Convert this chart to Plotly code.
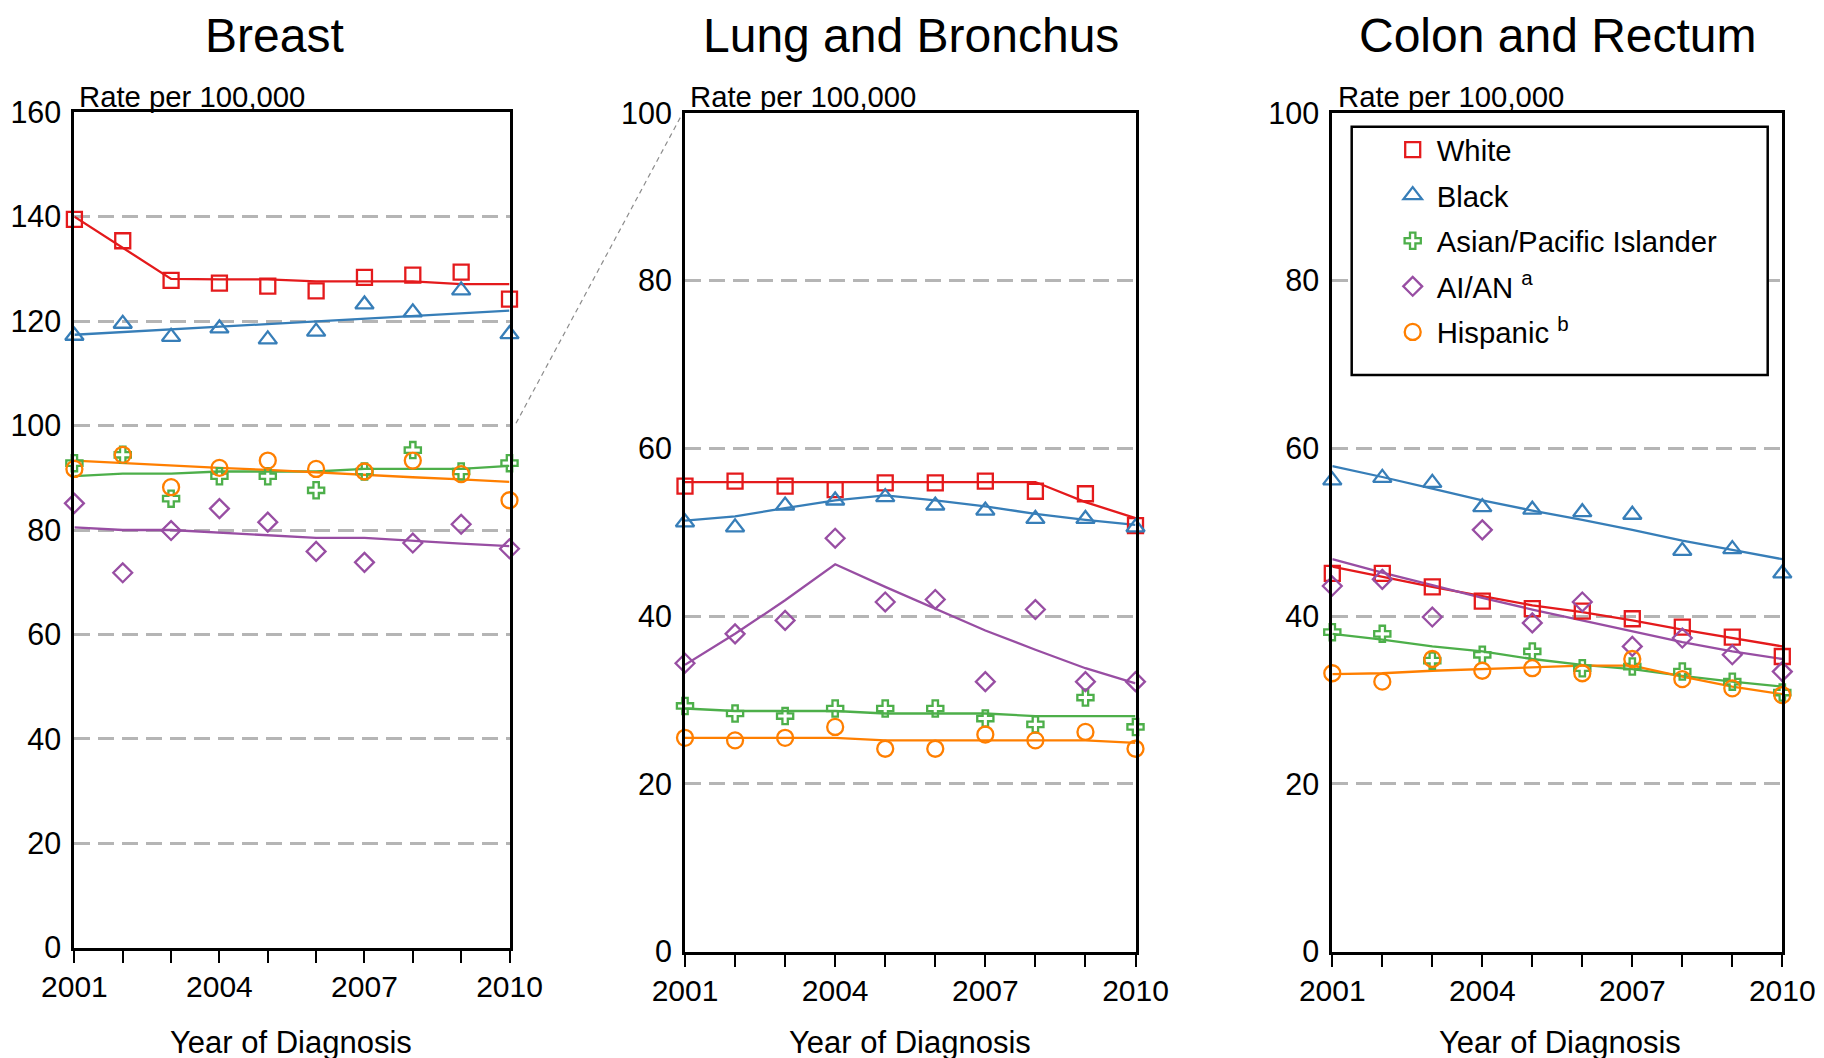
import plotly.graph_objects as go

W, H = 1824, 1058
OFF = 8  # page body margin of the html page

# ---------------- data ----------------
years = list(range(2001, 2011))
year_tick_vals = [2001, 2004, 2007, 2010]
year_tick_text = ["2001", "2004", "2007", "2010"]

panel_titles = ["Breast", "Lung and Bronchus", "Colon and Rectum"]
y_label = "Rate per 100,000"
x_label = "Year of Diagnosis"

group_names = ["White", "Black", "Asian/Pacific Islander",
               "AI/AN <sup>a</sup>", "Hispanic <sup>b</sup>"]

# Breast
breast_obs_white = [139.5, 135.4, 127.8, 127.3, 126.7, 125.8, 128.4, 128.8, 129.4, 124.2]
breast_fit_white = [140.0, 134.1, 128.1, 128.0, 128.0, 127.6, 127.6, 127.6, 127.1, 127.1]
breast_obs_black = [117.2, 119.5, 117.0, 118.6, 116.5, 118.0, 123.2, 121.7, 125.9, 117.5]
breast_fit_black = [117.4, 117.9, 118.4, 118.9, 119.4, 119.9, 120.5, 121.0, 121.5, 122.0]
breast_obs_api = [92.8, 94.4, 86.0, 90.3, 90.3, 87.6, 91.2, 95.3, 91.2, 92.8]
breast_fit_api = [90.3, 90.8, 90.8, 91.2, 91.2, 91.2, 91.7, 91.7, 91.7, 92.3]
breast_obs_aian = [85.1, 71.8, 79.9, 84.1, 81.5, 75.9, 73.8, 77.5, 81.1, 76.4]
breast_fit_aian = [80.5, 80.0, 80.0, 79.5, 79.0, 78.5, 78.5, 77.9, 77.4, 76.9]
breast_obs_hisp = [91.7, 94.4, 88.2, 91.9, 93.3, 91.7, 91.2, 93.3, 90.7, 85.7]
breast_fit_hisp = [93.3, 92.8, 92.4, 91.9, 91.5, 91.0, 90.6, 90.1, 89.7, 89.2]

# Lung and Bronchus
lung_obs_white = [55.5, 56.1, 55.5, 55.1, 55.9, 55.9, 56.1, 54.9, 54.6, 50.8]
lung_fit_white = [56.0, 56.0, 56.0, 56.0, 56.0, 56.0, 56.0, 56.0, 53.6, 51.7]
lung_obs_black = [51.2, 50.6, 53.2, 53.8, 54.2, 53.2, 52.6, 51.6, 51.6, 50.6]
lung_fit_black = [51.4, 51.9, 52.9, 53.8, 54.4, 53.8, 53.1, 52.2, 51.5, 50.9]
lung_obs_api = [29.3, 28.4, 28.1, 29.0, 29.0, 29.0, 27.8, 27.1, 30.3, 26.8]
lung_fit_api = [29.0, 28.7, 28.7, 28.7, 28.4, 28.4, 28.4, 28.1, 28.1, 28.1]
lung_obs_aian = [34.4, 37.9, 39.5, 49.3, 41.7, 42.0, 32.2, 40.8, 32.2, 32.2]
lung_fit_aian = [34.2, 37.9, 41.9, 46.2, 43.5, 40.9, 38.3, 36.0, 33.8, 32.0]
lung_obs_hisp = [25.5, 25.2, 25.5, 26.8, 24.2, 24.2, 25.9, 25.2, 26.2, 24.2]
lung_fit_hisp = [25.5, 25.5, 25.5, 25.5, 25.2, 25.2, 25.2, 25.2, 25.2, 24.9]

# Colon and Rectum
colon_obs_white = [45.1, 45.1, 43.5, 41.8, 40.9, 40.6, 39.7, 38.7, 37.5, 35.2]
colon_fit_white = [45.9, 44.7, 43.5, 42.4, 41.3, 40.5, 39.5, 38.4, 37.4, 36.4]
colon_obs_black = [56.2, 56.5, 55.9, 53.0, 52.7, 52.4, 52.1, 47.8, 48.0, 45.1]
colon_fit_black = [57.9, 56.6, 55.2, 53.8, 52.6, 51.5, 50.3, 49.0, 47.9, 46.8]
colon_obs_api = [38.1, 37.9, 34.7, 35.4, 35.8, 33.8, 34.0, 33.4, 32.2, 30.9]
colon_fit_api = [37.9, 37.2, 36.4, 35.8, 34.9, 34.2, 33.7, 32.9, 32.2, 31.6]
colon_obs_aian = [43.6, 44.4, 39.9, 50.3, 39.2, 41.7, 36.4, 37.4, 35.4, 33.4]
colon_fit_aian = [46.8, 45.2, 43.7, 42.2, 40.8, 39.5, 38.2, 36.9, 35.8, 34.9]
colon_obs_hisp = [33.2, 32.2, 34.9, 33.5, 33.8, 33.2, 34.9, 32.5, 31.4, 30.6]
colon_fit_hisp = [33.1, 33.2, 33.5, 33.7, 33.9, 34.1, 34.1, 32.8, 31.6, 30.7]

# ---------------- styles ----------------
FONT = "Arial, Liberation Sans, sans-serif"
colors = ["#e41a1c", "#377eb8", "#4daf4a", "#984ea3", "#ff7f00"]
symbols = ["square-open", "triangle-up-open", "cross-open", "diamond-open", "circle-open"]
msizes = [15, 16, 13.5, 14.5, 16]

panels = [
    dict(obs=[breast_obs_white, breast_obs_black, breast_obs_api, breast_obs_aian, breast_obs_hisp],
         fit=[breast_fit_white, breast_fit_black, breast_fit_api, breast_fit_aian, breast_fit_hisp],
         yrange=[0, 160], px=(74.4, 509.5), py=(112.3, 947.7),
         title_x=274.5, ylab_x=76.5, xlab_x=291),
    dict(obs=[lung_obs_white, lung_obs_black, lung_obs_api, lung_obs_aian, lung_obs_hisp],
         fit=[lung_fit_white, lung_fit_black, lung_fit_api, lung_fit_aian, lung_fit_hisp],
         yrange=[0, 100], px=(685.0, 1135.5), py=(113.0, 951.7),
         title_x=911, ylab_x=687.5, xlab_x=910),
    dict(obs=[colon_obs_white, colon_obs_black, colon_obs_api, colon_obs_aian, colon_obs_hisp],
         fit=[colon_fit_white, colon_fit_black, colon_fit_api, colon_fit_aian, colon_fit_hisp],
         yrange=[0, 100], px=(1332.3, 1782.3), py=(113.0, 951.7),
         title_x=1557.6, ylab_x=1335.5, xlab_x=1560),
]


def fx(p):
    return (p - OFF) / W


def fy(p):
    return 1 - (p - OFF) / H


fig = go.Figure()
layout = dict(
    width=W, height=H,
    margin=dict(l=0, r=0, t=0, b=0, autoexpand=False),
    paper_bgcolor="white", plot_bgcolor="white",
    font=dict(family=FONT, color="black", size=30),
    showlegend=True,
    annotations=[], shapes=[],
)

for i, p in enumerate(panels):
    n = "" if i == 0 else str(i + 1)
    xa, ya = "x" + n, "y" + n
    for g in range(5):
        fig.add_trace(go.Scatter(
            x=years, y=p["fit"][g], mode="lines", xaxis=xa, yaxis=ya,
            line=dict(color=colors[g], width=2.3), showlegend=False,
            legendgroup=group_names[g], cliponaxis=False, hoverinfo="skip"))
    for g in range(5):
        fig.add_trace(go.Scatter(
            x=years, y=p["obs"][g], mode="markers", xaxis=xa, yaxis=ya,
            name=group_names[g], legendgroup=group_names[g],
            showlegend=(i == 2),
            marker=dict(symbol=symbols[g], size=msizes[g], color=colors[g],
                        line=dict(color=colors[g], width=2.3)),
            cliponaxis=False))

    layout["xaxis" + n] = dict(
        domain=[fx(p["px"][0]), fx(p["px"][1])], anchor=ya,
        range=[years[0], years[-1]],
        tickmode="array", tickvals=year_tick_vals, ticktext=year_tick_text,
        ticks="outside", ticklen=12, tickwidth=2, tickcolor="black",
        minor=dict(ticks="outside", ticklen=12, tickwidth=2, tickcolor="black",
                   tick0=years[0], dtick=1, showgrid=False),
        showline=True, linewidth=3, linecolor="black", mirror=True,
        showgrid=False, zeroline=False, tickfont=dict(size=30),
        ticklabelstandoff=-2)
    layout["yaxis" + n] = dict(
        domain=[fy(p["py"][1]), fy(p["py"][0])], anchor=xa,
        range=p["yrange"], tick0=0, dtick=20, ticks="",
        showline=True, linewidth=3, linecolor="black", mirror=True,
        showgrid=True, gridcolor="#b5b5b5", gridwidth=2.5, griddash="16px,8px",
        zeroline=False, tickfont=dict(size=30.5), ticklabelstandoff=4)

    layout["annotations"].append(dict(
        text=panel_titles[i], x=fx(p["title_x"]), y=fy(35), xref="paper", yref="paper",
        xanchor="center", yanchor="middle", showarrow=False, font=dict(size=48)))
    layout["annotations"].append(dict(
        text=y_label, x=fx(p["ylab_x"]), y=fy(96), xref="paper", yref="paper",
        xanchor="left", yanchor="middle", showarrow=False, font=dict(size=29.3)))
    layout["annotations"].append(dict(
        text=x_label, x=fx(p["xlab_x"]), y=fy(1042), xref="paper", yref="paper",
        xanchor="center", yanchor="middle", showarrow=False, font=dict(size=31)))

# connector (scale break indicator)
layout["shapes"].append(dict(
    type="line", xref="paper", yref="paper",
    x0=fx(516), y0=fy(423.3), x1=fx(681.7), y1=fy(115),
    line=dict(color="#8c8c8c", width=1.2, dash="5px,4px")))

# legend box
layout["shapes"].append(dict(
    type="rect", xref="paper", yref="paper", layer="above",
    x0=fx(1351.7), y0=fy(375), x1=fx(1767.7), y1=fy(126.7),
    fillcolor="white", line=dict(color="black", width=2.5)))

layout["legend"] = dict(
    x=fx(1388.7), y=fy(124), xanchor="left", yanchor="top",
    bgcolor="rgba(0,0,0,0)", borderwidth=0,
    font=dict(size=29.3), itemwidth=38,
    traceorder="grouped", tracegroupgap=4.5)

fig.update_layout(**layout)
fig.write_html("out.html")
